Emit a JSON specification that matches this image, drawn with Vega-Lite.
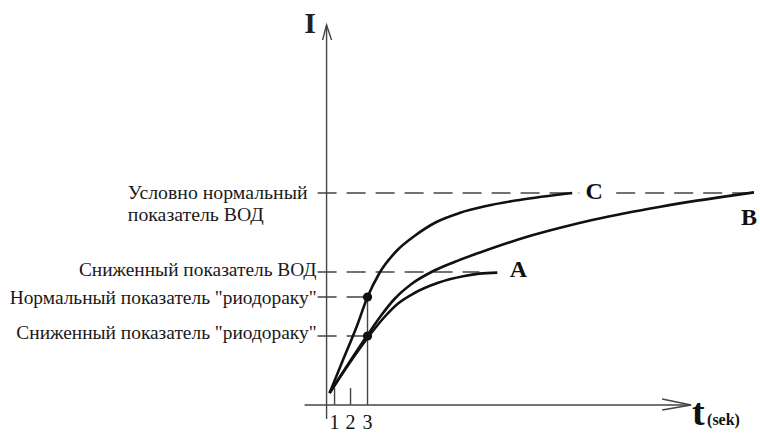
{
  "$schema": "https://vega.github.io/schema/vega-lite/v6.json",
  "width": 760,
  "height": 436,
  "autosize": {"type": "fit", "contains": "padding"},
  "padding": 0,
  "background": "white",
  "config": {"view": {"stroke": null}},
  "datasets": {
    "curves": [
      {"curve": "C", "o": 0, "t": 0, "I": 6},
      {"curve": "C", "o": 1, "t": 1.3, "I": 22},
      {"curve": "C", "o": 2, "t": 2.7, "I": 39},
      {"curve": "C", "o": 3, "t": 3.8, "I": 54},
      {"curve": "C", "o": 4, "t": 5.0, "I": 66},
      {"curve": "C", "o": 5, "t": 6.8, "I": 77.5},
      {"curve": "C", "o": 6, "t": 8.5, "I": 84.5},
      {"curve": "C", "o": 7, "t": 10.7, "I": 91.5},
      {"curve": "C", "o": 8, "t": 13.0, "I": 96},
      {"curve": "C", "o": 9, "t": 15.7, "I": 99.5},
      {"curve": "C", "o": 10, "t": 19.0, "I": 102.5},
      {"curve": "C", "o": 11, "t": 24.3, "I": 106},
      {"curve": "B", "o": 0, "t": 0, "I": 6},
      {"curve": "B", "o": 1, "t": 2.0, "I": 21.5},
      {"curve": "B", "o": 2, "t": 3.8, "I": 35},
      {"curve": "B", "o": 3, "t": 5.2, "I": 45},
      {"curve": "B", "o": 4, "t": 6.5, "I": 53},
      {"curve": "B", "o": 5, "t": 8.2, "I": 60.5},
      {"curve": "B", "o": 6, "t": 10.2, "I": 66.5},
      {"curve": "B", "o": 7, "t": 12.5, "I": 71.5},
      {"curve": "B", "o": 8, "t": 15.2, "I": 76.5},
      {"curve": "B", "o": 9, "t": 19.7, "I": 84},
      {"curve": "B", "o": 10, "t": 23.0, "I": 88.5},
      {"curve": "B", "o": 11, "t": 26.3, "I": 92.5},
      {"curve": "B", "o": 12, "t": 29.7, "I": 96},
      {"curve": "B", "o": 13, "t": 33.0, "I": 99},
      {"curve": "B", "o": 14, "t": 36.3, "I": 101.8},
      {"curve": "B", "o": 15, "t": 39.7, "I": 104.3},
      {"curve": "B", "o": 16, "t": 42.5, "I": 106.3},
      {"curve": "A", "o": 0, "t": 0, "I": 6},
      {"curve": "A", "o": 1, "t": 2.0, "I": 21},
      {"curve": "A", "o": 2, "t": 3.8, "I": 33.5},
      {"curve": "A", "o": 3, "t": 5.5, "I": 44},
      {"curve": "A", "o": 4, "t": 6.8, "I": 50.5},
      {"curve": "A", "o": 5, "t": 8.5, "I": 56},
      {"curve": "A", "o": 6, "t": 10.8, "I": 61},
      {"curve": "A", "o": 7, "t": 13.5, "I": 64.5},
      {"curve": "A", "o": 8, "t": 15.0, "I": 65.7},
      {"curve": "A", "o": 9, "t": 16.8, "I": 66.2}
    ],
    "axes": [
      {"id": "yaxis", "o": 0, "t": -0.3, "I": -7},
      {"id": "yaxis", "o": 1, "t": -0.3, "I": 190},
      {"id": "yarrow", "o": 0, "t": -0.7, "I": 182.5},
      {"id": "yarrow", "o": 1, "t": -0.3, "I": 190},
      {"id": "yarrow", "o": 2, "t": 0.2, "I": 182.5},
      {"id": "xaxis", "o": 0, "t": -2.5, "I": 0},
      {"id": "xaxis", "o": 1, "t": 36.2, "I": 0},
      {"id": "xarrow", "o": 0, "t": 33.3, "I": 3},
      {"id": "xarrow", "o": 1, "t": 36.2, "I": 0},
      {"id": "xarrow", "o": 2, "t": 33.3, "I": -2.5},
      {"id": "tick1", "o": 0, "t": 0.5, "I": 8.5},
      {"id": "tick1", "o": 1, "t": 0.5, "I": 0},
      {"id": "tick2", "o": 0, "t": 2.1, "I": 8.5},
      {"id": "tick2", "o": 1, "t": 2.1, "I": 0},
      {"id": "tick3", "o": 0, "t": 3.8, "I": 54},
      {"id": "tick3", "o": 1, "t": 3.8, "I": 0}
    ],
    "dashed": [
      {"id": "d1", "o": 0, "t": -1.2, "I": 106},
      {"id": "d1", "o": 1, "t": 25, "I": 106},
      {"id": "d1b", "o": 0, "t": 28.7, "I": 106},
      {"id": "d1b", "o": 1, "t": 42, "I": 106},
      {"id": "d2", "o": 0, "t": -1.2, "I": 66.5},
      {"id": "d2", "o": 1, "t": 15, "I": 66.5},
      {"id": "d3", "o": 0, "t": -1.2, "I": 54},
      {"id": "d3", "o": 1, "t": 3.8, "I": 54},
      {"id": "d4", "o": 0, "t": -1.2, "I": 34.5},
      {"id": "d4", "o": 1, "t": 3.8, "I": 34.5}
    ],
    "dots": [
      {"t": 3.8, "I": 54},
      {"t": 3.8, "I": 34.5}
    ],
    "rightLabels": [
      {"label": "Сниженный показатель ВОД", "t": -1.3, "I": 67.5},
      {"label": "Нормальный показатель \"риодораку\"", "t": -1.3, "I": 53.5},
      {"label": "Сниженный показатель \"риодораку\"", "t": -1.3, "I": 36}
    ],
    "leftLabels": [
      {"label": "Условно нормальный", "t": -20.2, "I": 106},
      {"label": "показатель ВОД", "t": -20.2, "I": 95}
    ],
    "letters": [
      {"label": "C", "t": 26.5, "I": 106.5},
      {"label": "A", "t": 18.9, "I": 67.5},
      {"label": "B", "t": 42.0, "I": 93.5}
    ],
    "digits": [
      {"label": "1", "t": 0.5, "I": -12},
      {"label": "2", "t": 2.1, "I": -12},
      {"label": "3", "t": 3.8, "I": -12}
    ],
    "axisI": [{"label": "I", "t": -1.95, "I": 190.5}],
    "axisT": [{"label": "t", "t": 36.3, "I": -10}],
    "axisSek": [{"label": "(sek)", "t": 37.8, "I": -10}]
  },
  "encoding": {
    "x": {"field": "t", "type": "quantitative", "scale": {"domain": [-33, 43], "nice": false, "zero": false}, "axis": null},
    "y": {"field": "I", "type": "quantitative", "scale": {"domain": [-15.5, 202.5], "nice": false, "zero": false}, "axis": null}
  },
  "layer": [
    {
      "data": {"name": "dashed"},
      "mark": {"type": "line", "color": "#444444", "strokeWidth": 1.5, "strokeDash": [19, 10]},
      "encoding": {"detail": {"field": "id"}, "order": {"field": "o"}}
    },
    {
      "data": {"name": "axes"},
      "mark": {"type": "line", "color": "#444444", "strokeWidth": 1.4},
      "encoding": {"detail": {"field": "id"}, "order": {"field": "o"}}
    },
    {
      "data": {"name": "curves"},
      "mark": {"type": "line", "color": "#111111", "strokeWidth": 2.6, "interpolate": "monotone"},
      "encoding": {"detail": {"field": "curve"}, "order": {"field": "o"}}
    },
    {
      "data": {"name": "dots"},
      "mark": {"type": "point", "filled": true, "color": "#111111", "size": 85, "opacity": 1}
    },
    {
      "data": {"name": "rightLabels"},
      "mark": {"type": "text", "align": "right", "baseline": "middle", "font": "Liberation Serif", "fontSize": 19.4, "color": "#1a1a1a"},
      "encoding": {"text": {"field": "label"}}
    },
    {
      "data": {"name": "leftLabels"},
      "mark": {"type": "text", "align": "left", "baseline": "middle", "font": "Liberation Serif", "fontSize": 19.8, "color": "#1a1a1a"},
      "encoding": {"text": {"field": "label"}}
    },
    {
      "data": {"name": "letters"},
      "mark": {"type": "text", "align": "center", "baseline": "middle", "font": "Liberation Serif", "fontWeight": "bold", "fontSize": 24, "color": "#111111"},
      "encoding": {"text": {"field": "label"}}
    },
    {
      "data": {"name": "digits"},
      "mark": {"type": "text", "align": "center", "baseline": "alphabetic", "font": "Liberation Serif", "fontSize": 20, "color": "#111111"},
      "encoding": {"text": {"field": "label"}}
    },
    {
      "data": {"name": "axisI"},
      "mark": {"type": "text", "align": "center", "baseline": "middle", "font": "Liberation Serif", "fontWeight": "bold", "fontSize": 30, "color": "#222222"},
      "encoding": {"text": {"field": "label"}}
    },
    {
      "data": {"name": "axisT"},
      "mark": {"type": "text", "align": "left", "baseline": "alphabetic", "font": "Liberation Serif", "fontWeight": "bold", "fontSize": 38, "color": "#111111"},
      "encoding": {"text": {"field": "label"}}
    },
    {
      "data": {"name": "axisSek"},
      "mark": {"type": "text", "align": "left", "baseline": "alphabetic", "font": "Liberation Serif", "fontWeight": "bold", "fontSize": 16, "color": "#111111"},
      "encoding": {"text": {"field": "label"}}
    }
  ]
}
